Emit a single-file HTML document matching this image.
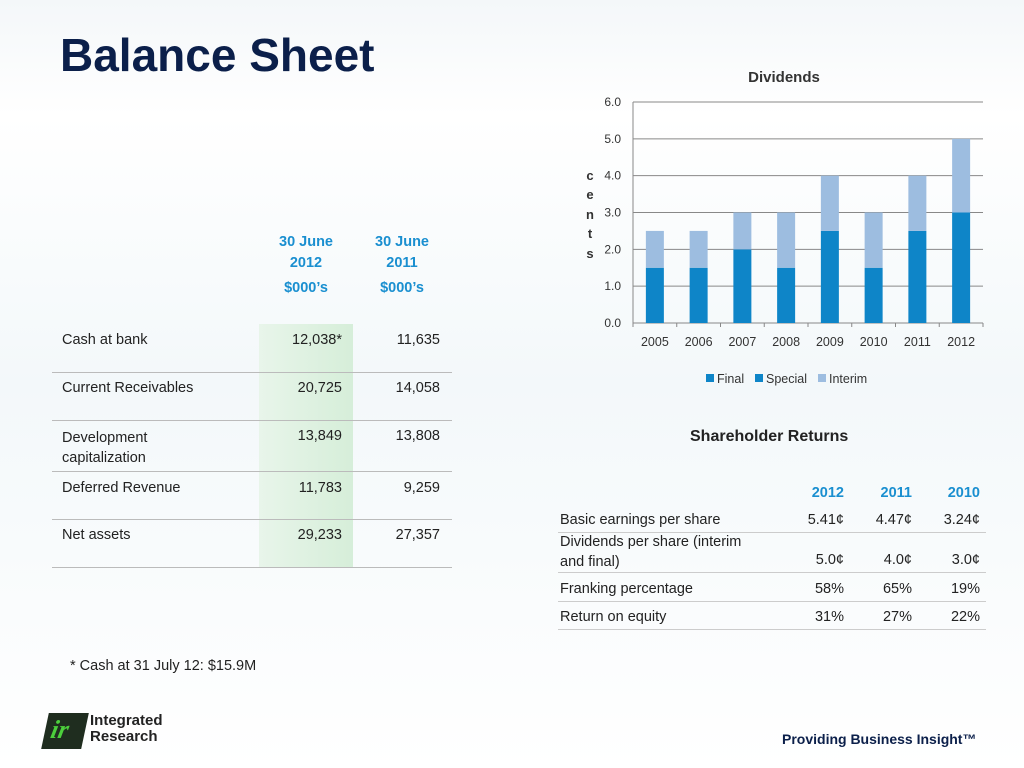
<!DOCTYPE html>
<html><head><meta charset="utf-8"><style>
body{margin:0;width:1024px;height:768px;overflow:hidden;background:linear-gradient(180deg,#f4f7f9 0%,#fff 15%,#f3f8fa 50%,#fff 100%);font-family:"Liberation Sans",sans-serif;position:relative;color:#222}
.a{position:absolute}
h1{position:absolute;left:60px;top:28px;margin:0;font-size:46px;color:#0b1f4a;font-weight:bold}
.t{font-size:15px}
.hdr{color:#1a8fd0;font-weight:bold;font-size:14.5px;text-align:center}
.row{position:absolute;left:52px;width:400px;border-bottom:1px solid #bbb;font-size:14.5px}
.r{position:absolute;text-align:right}
.sr{position:absolute;left:558px;width:428px;border-bottom:1px solid #ccc;font-size:14.5px;height:20px}
</style></head><body>
<h1>Balance Sheet</h1>
<div class="a" style="left:259px;top:324px;width:94px;height:243px;background:linear-gradient(90deg,#e8f5ea,#d6eed9)"></div>
<div class="a hdr" style="left:270px;top:232px;width:72px;line-height:21px">30 June<br>2012<div style="margin-top:4px">$000’s</div></div>
<div class="a hdr" style="left:366px;top:232px;width:72px;line-height:21px">30 June<br>2011<div style="margin-top:4px">$000’s</div></div>
<div class="row" style="top:332px;height:40px"><span class="a" style="left:10px">Cash at bank</span><span class="r" style="right:110px">12,038*</span><span class="r" style="right:12px">11,635</span></div>
<div class="row" style="top:380px;height:40px"><span class="a" style="left:10px">Current Receivables</span><span class="r" style="right:110px">20,725</span><span class="r" style="right:12px">14,058</span></div>
<div class="row" style="top:428px;height:43px"><span class="a" style="left:10px;line-height:20px">Development<br>capitalization</span><span class="r" style="right:110px">13,849</span><span class="r" style="right:12px">13,808</span></div>
<div class="row" style="top:480px;height:39px"><span class="a" style="left:10px">Deferred Revenue</span><span class="r" style="right:110px">11,783</span><span class="r" style="right:12px">9,259</span></div>
<div class="row" style="top:527px;height:40px"><span class="a" style="left:10px">Net assets</span><span class="r" style="right:110px">29,233</span><span class="r" style="right:12px">27,357</span></div>
<div class="a t" style="left:70px;top:658px;font-size:14.5px">* Cash at 31 July 12: $15.9M</div>

<svg class="a" style="left:0;top:0" width="1024" height="400" id="chart">
<text x="784" y="82" text-anchor="middle" font-size="15" font-weight="bold" fill="#333">Dividends</text>
<g font-size="13" font-weight="bold" fill="#333" text-anchor="middle"><text x="590" y="180">c</text><text x="590" y="199">e</text><text x="590" y="219">n</text><text x="590" y="238">t</text><text x="590" y="258">s</text></g>
<g id="g"></g>
<g font-size="12.5" fill="#333">
<rect x="706" y="374" width="8" height="8" fill="#0e85c8"/><text x="717" y="383">Final</text>
<rect x="755" y="374" width="8" height="8" fill="#0e85c8"/><text x="766" y="383">Special</text>
<rect x="818" y="374" width="8" height="8" fill="#9dbde0"/><text x="829" y="383">Interim</text>
</g>
</svg>
<script>
const years=["2005","2006","2007","2008","2009","2010","2011","2012"];
const finalV=[1.5,1.5,2,1.5,2.5,1.5,2.5,3];
const specialV=[0,0,0,0,0,0,0,0];
const interimV=[1,1,1,1.5,1.5,1.5,1.5,2];
const ticks=[0,1,2,3,4,5,6];
const g=document.getElementById('g'),NS='http://www.w3.org/2000/svg';
const x0=633,x1=983,y=v=>323-v*36.83,bw=(x1-x0)/years.length;
function el(t,a){const e=document.createElementNS(NS,t);for(const k in a)e.setAttribute(k,a[k]);g.appendChild(e);return e;}
ticks.forEach(t=>{const l=el('line',{x1:x0,x2:x1,y1:y(t),y2:y(t),stroke:'#888'});


const tx=el('text',{x:621,y:y(t)+4,'text-anchor':'end','font-size':12,fill:'#333'});tx.textContent=t.toFixed(1);

});
el('line',{x1:x0,x2:x0,y1:y(6),y2:y(0)+4,stroke:'#888'});
years.forEach((yr,i)=>{const cx=x0+bw*(i+.5);
el('line',{x1:x0+bw*(i+1),x2:x0+bw*(i+1),y1:y(0),y2:y(0)+4,stroke:'#888'});
let b=0;[[finalV,'#0e85c8','bar-final-'],[specialV,'#0e85c8','bar-special-'],[interimV,'#9dbde0','bar-interim-']].forEach(([arr,c,n])=>{
const r=el('rect',{x:cx-9,y:y(b+arr[i]),width:18,height:y(b)-y(b+arr[i]),fill:c});


b+=arr[i];});
const t=el('text',{x:cx,y:346,'text-anchor':'middle','font-size':12.5,fill:'#333'});t.textContent=yr;

});
</script>

<div class="a" style="left:690px;top:428px;font-size:16px;font-weight:bold;color:#222">Shareholder Returns</div>
<div class="a hdr" style="left:790px;top:485px;width:54px;text-align:right">2012</div>
<div class="a hdr" style="left:858px;top:485px;width:54px;text-align:right">2011</div>
<div class="a hdr" style="left:926px;top:485px;width:54px;text-align:right">2010</div>
<div class="sr" style="top:512px"><span class="a" style="left:2px">Basic earnings per share</span><span class="r" style="right:142px">5.41¢</span><span class="r" style="right:74px">4.47¢</span><span class="r" style="right:6px">3.24¢</span></div>
<div class="sr" style="top:532px;height:40px"><span class="a" style="left:2px;line-height:20px">Dividends per share (interim<br>and final)</span><span class="r" style="right:142px;top:20px">5.0¢</span><span class="r" style="right:74px;top:20px">4.0¢</span><span class="r" style="right:6px;top:20px">3.0¢</span></div>
<div class="sr" style="top:581px"><span class="a" style="left:2px">Franking percentage</span><span class="r" style="right:142px">58%</span><span class="r" style="right:74px">65%</span><span class="r" style="right:6px">19%</span></div>
<div class="sr" style="top:609px"><span class="a" style="left:2px">Return on equity</span><span class="r" style="right:142px">31%</span><span class="r" style="right:74px">27%</span><span class="r" style="right:6px">22%</span></div>

<div class="a" style="left:45px;top:713px;width:40px;height:36px;background:#1f2d1f;transform:skewX(-12deg)"><span style="position:absolute;left:6px;top:2px;color:#4ccf3c;font:italic bold 26px 'Liberation Serif',serif">ir</span></div>
<div class="a" style="left:90px;top:713px;font-size:15px;line-height:16px;font-weight:bold;color:#222">Integrated<br>Research</div>
<div class="a" style="left:782px;top:731px;font-size:14px;font-weight:bold;color:#0b1f4a">Providing Business Insight™</div>
</body></html>
